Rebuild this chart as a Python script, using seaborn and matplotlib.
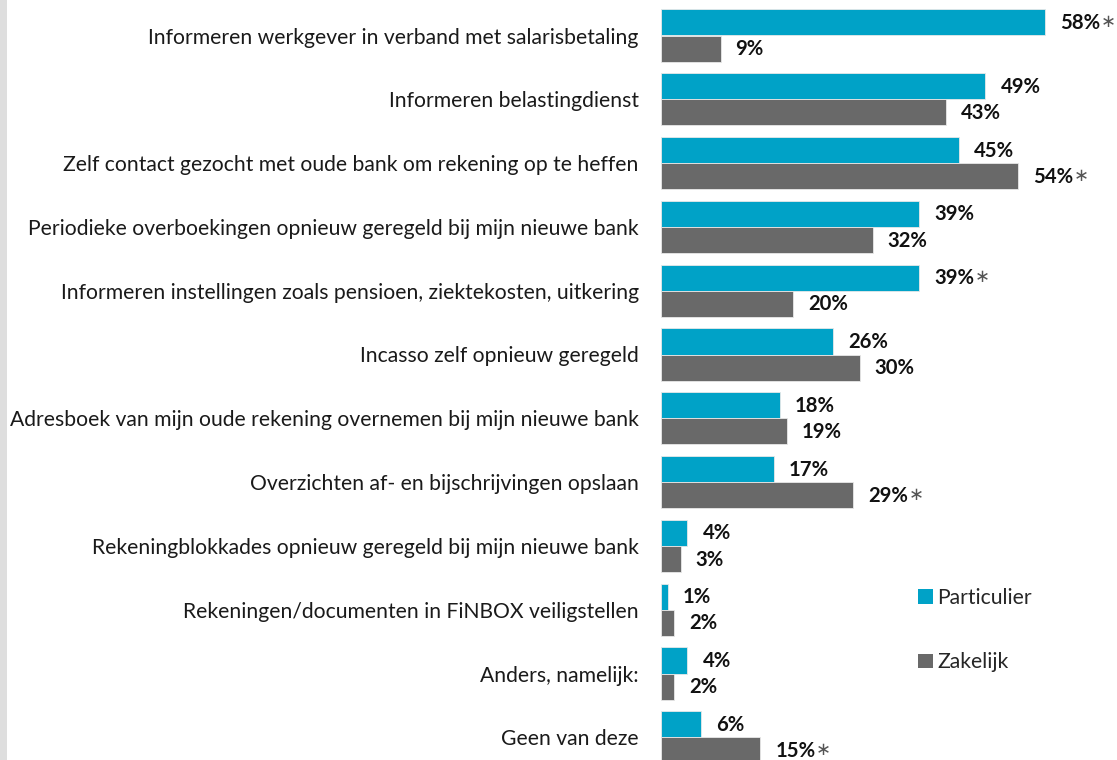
import matplotlib
matplotlib.use("Agg")
import matplotlib.pyplot as plt
import seaborn as sns
import pandas as pd
from matplotlib.patches import Patch, Rectangle

categories = [
    "Informeren werkgever in verband met salarisbetaling",
    "Informeren belastingdienst",
    "Zelf contact gezocht met oude bank om rekening op te heffen",
    "Periodieke overboekingen opnieuw geregeld bij mijn nieuwe bank",
    "Informeren instellingen zoals pensioen, ziektekosten, uitkering",
    "Incasso zelf opnieuw geregeld",
    "Adresboek van mijn oude rekening overnemen bij mijn nieuwe bank",
    "Overzichten af- en bijschrijvingen opslaan",
    "Rekeningblokkades opnieuw geregeld bij mijn nieuwe bank",
    "Rekeningen/documenten in FiNBOX veiligstellen",
    "Anders, namelijk:",
    "Geen van deze",
]
particulier = [58, 49, 45, 39, 39, 26, 18, 17, 4, 1, 4, 6]
zakelijk = [9, 43, 54, 32, 20, 30, 19, 29, 3, 2, 2, 15]
sig_particulier = [True, False, False, False, True, False, False, False, False, False, False, False]
sig_zakelijk = [False, False, True, False, False, False, False, True, False, False, False, True]
series_names = ["Particulier", "Zakelijk"]
colors = ["#00A2C7", "#696969"]

df = pd.DataFrame({
    "cat": categories * 2,
    "value": particulier + zakelijk,
    "serie": [series_names[0]] * len(categories) + [series_names[1]] * len(categories),
})

sns.set_theme(style="white")
plt.rcParams["font.family"] = ["Lato", "DejaVu Sans"]

W, H = 1117, 760
fig = plt.figure(figsize=(W / 100, H / 100), dpi=100)
fig.patch.set_facecolor("white")
# left grey strip
fig.patches.append(Rectangle((0, 0), 7 / W, 1, transform=fig.transFigure,
                             facecolor="#DEDEDE", edgecolor="none", zorder=0))

x0 = 661
ppu = 6.62
ax = fig.add_axes([x0 / W, 0, (W - x0) / W, 1])
ax.set_facecolor("none")
sns.barplot(data=df, y="cat", x="value", hue="serie", orient="h",
            palette=colors, width=0.82, ax=ax, legend=False,
            edgecolor="#E8E8E8", linewidth=0.6, saturation=1)

pitch = 63.8
c0 = 35.5
ax.set_ylim((H - c0) / pitch, -c0 / pitch)
ax.set_xlim(0, (W - x0) / ppu)
ax.set_xlabel("")
ax.set_ylabel("")
ax.set_xticks([])
ax.set_yticks(range(len(categories)))
ax.set_yticklabels(categories, fontsize=15.2, color="#1A1A1A")
ax.tick_params(axis="y", length=0, pad=16)
for s in ax.spines.values():
    s.set_visible(False)

for i in range(len(categories)):
    for j, (vals, sig) in enumerate([(particulier, sig_particulier), (zakelijk, sig_zakelijk)]):
        y = i - 0.205 + 0.41 * j + 0.01
        v = vals[i]
        ax.annotate(f"{v}%", xy=(v, y), xytext=(15, 0), textcoords="offset pixels",
                    ha="left", va="center", fontsize=14.6, fontweight="bold", color="#111111")
        if sig[i]:
            ax.annotate("\u2217", xy=(v, y), xytext=(63, 1), textcoords="offset pixels",
                        ha="center", va="center", fontsize=13, color="#555555",
                        family="DejaVu Sans")

handles = [Patch(facecolor=colors[k], edgecolor="none", label=series_names[k]) for k in range(2)]
fig.legend(handles=handles, loc="upper left", bbox_to_anchor=(918 / W, 1 - 588 / H),
           frameon=False, fontsize=15.2, handlelength=0.7, handleheight=0.7,
           handletextpad=0.2, labelspacing=2.1, borderaxespad=0, borderpad=0)

fig.savefig("out.png", dpi=100, facecolor="white")
